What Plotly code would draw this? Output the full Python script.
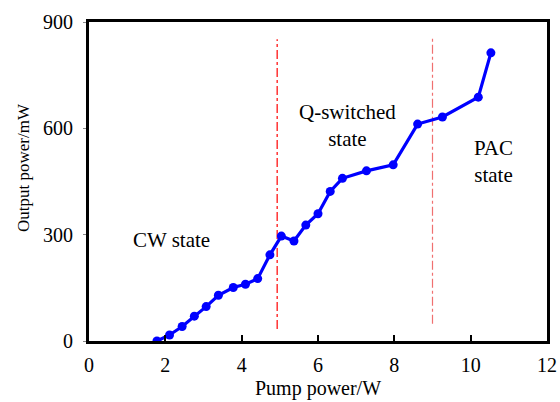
import plotly.graph_objects as go

pump_power = [1.78, 2.11, 2.44, 2.76, 3.07, 3.39, 3.78, 4.10, 4.42, 4.74, 5.04,
              5.37, 5.68, 6.00, 6.32, 6.64, 7.27, 7.97, 8.61, 9.26, 10.20, 10.53]
output_power = [0, 17, 41, 70, 97, 129, 151, 160, 176, 243, 296,
                282, 327, 359, 422, 459, 480, 497, 612, 632, 688, 813]

boundaries = [4.93, 9.0]
boundary_spans = [[34, 851], [49, 857]]
boundary_colors = ["#ff0000", "#f07070"]

region_labels = ["CW state", "Q-switched<br>state", "PAC<br>state"]
label_x = [2.17, 6.76, 10.6]
label_y = [285, 609, 506]

x_ticks = [0, 2, 4, 6, 8, 10, 12]
y_ticks = [0, 300, 600, 900]

FONT = "Liberation Serif, Times New Roman, serif"

W, H = 560, 402
ML, MR, MT, MB = 89, 13, 22, 61

fig = go.Figure()

for bx, span, c in zip(boundaries, boundary_spans, boundary_colors):
    fig.add_trace(go.Scatter(
        x=[bx, bx], y=span, mode="lines",
        line=dict(color=c, width=1.2, dash="dashdot"),
        showlegend=False, hoverinfo="skip"))

fig.add_trace(go.Scatter(
    x=pump_power, y=output_power, mode="lines+markers",
    line=dict(color="#0000ff", width=3.2),
    marker=dict(color="#0000ff", size=9),
    showlegend=False))

for t, lx, ly in zip(region_labels, label_x, label_y):
    fig.add_annotation(x=lx, y=ly, xref="x", yref="y", text=t, showarrow=False,
                       font=dict(family=FONT, size=21, color="black"),
                       align="center")

# y-axis title placed as annotation (pixel position converted to paper coords)
fig.add_annotation(x=(24 - ML) / (W - ML - MR), y=(H - MB - 168) / (H - MB - MT),
                   xref="paper", yref="paper", text="Output power/mW",
                   showarrow=False, textangle=-90, xanchor="center", yanchor="middle",
                   font=dict(family=FONT, size=17, color="black"))

fig.update_layout(
    width=W, height=H,
    margin=dict(l=ML, r=MR, t=MT, b=MB, autoexpand=False),
    paper_bgcolor="white", plot_bgcolor="white",
    font=dict(family=FONT, size=20, color="black"),
    xaxis=dict(range=[0, 12], tickvals=x_ticks, ticks="inside", ticklen=6,
               tickwidth=1.5, tickcolor="black",
               showline=True, linecolor="black", linewidth=3, mirror=True,
               showgrid=False, zeroline=False, automargin=False,
               title=dict(text="Pump power/W", font=dict(family=FONT, size=20), standoff=6),
               tickfont=dict(family=FONT, size=20), ticklabelstandoff=4),
    yaxis=dict(range=[0, 900], tickvals=y_ticks, ticks="outside", ticklen=3,
               tickwidth=1, tickcolor="#888888",
               showline=True, linecolor="black", linewidth=3, mirror=True,
               showgrid=False, zeroline=False, automargin=False,
               tickfont=dict(family=FONT, size=20), ticklabelstandoff=6),
)

fig.write_html("out.html", config={"displayModeBar": False},
               post_script="document.body.style.margin='0';document.body.style.overflow='hidden';")
